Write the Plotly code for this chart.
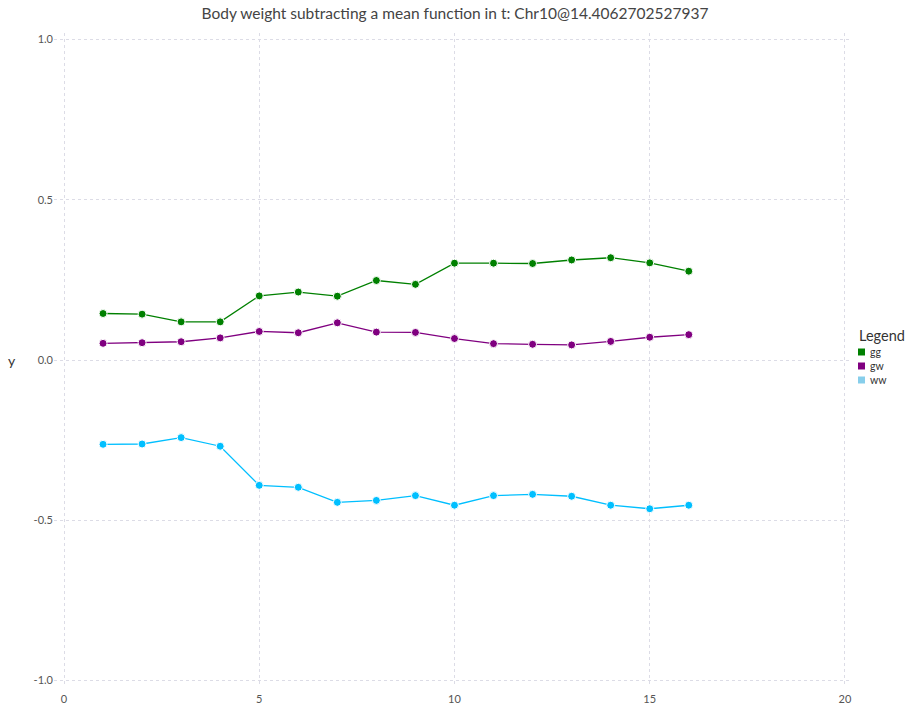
import plotly.graph_objects as go

# Time points and per-genotype body weight residuals
t = list(range(1, 17))
gg = [0.145, 0.143, 0.119, 0.119, 0.200, 0.212, 0.199, 0.248,
      0.236, 0.302, 0.302, 0.301, 0.312, 0.319, 0.303, 0.277]
gw = [0.052, 0.054, 0.057, 0.069, 0.089, 0.085, 0.116, 0.087,
      0.086, 0.067, 0.051, 0.049, 0.047, 0.058, 0.071, 0.079]
ww = [-0.263, -0.262, -0.242, -0.269, -0.391, -0.397, -0.444, -0.438,
      -0.423, -0.453, -0.423, -0.419, -0.425, -0.453, -0.464, -0.453]

names = ["gg", "gw", "ww"]
line_colors = ["#008000", "#800080", "#00BFFF"]
legend_colors = ["#008000", "#800080", "#87CEEB"]
values = [gg, gw, ww]

FONT = "Lato, 'Open Sans', sans-serif"
GRID = "#dcdce6"
W, H = 910, 709
ML, MR, MT, MB = 54, 58, 33, 22

fig = go.Figure()
for name, vals, col in zip(names, values, line_colors):
    fig.add_trace(go.Scatter(
        x=t, y=vals, mode="lines+markers", name=name, showlegend=False,
        line=dict(color=col, width=1.3),
        marker=dict(size=8, color=col, line=dict(color="white", width=1)),
    ))

# Compact legend placed by pixel position: title, square swatches, labels
plot_w = W - ML - MR
plot_h = H - MT - MB

def fx(p):
    return (p - ML) / plot_w

def fy(p):
    return (H - MB - p) / plot_h

shapes = []
annotations = [
    dict(text="Legend", xref="paper", yref="paper", x=fx(857), y=fy(335),
         xanchor="left", yanchor="middle", showarrow=False,
         font=dict(size=14.5, color="#333")),
    dict(text="y", xref="paper", yref="paper", x=-0.045, y=0.5,
         xanchor="right", yanchor="middle", showarrow=False,
         font=dict(size=14, color="#333")),
]
for i, (name, col) in enumerate(zip(names, legend_colors)):
    cy = 352 + 14 * i
    shapes.append(dict(
        type="rect", xref="paper", yref="paper", line=dict(width=0), fillcolor=col,
        x0=fx(858), x1=fx(865), y0=fy(cy + 3.5), y1=fy(cy - 3.5),
    ))
    annotations.append(dict(
        text=name, xref="paper", yref="paper", x=fx(868), y=fy(cy),
        xanchor="left", yanchor="middle", showarrow=False,
        font=dict(size=10.5, color="#333"),
    ))

fig.update_layout(
    width=W, height=H,
    margin=dict(l=ML, r=MR, t=MT, b=MB),
    paper_bgcolor="white", plot_bgcolor="white",
    font=dict(family=FONT, size=11, color="#444"),
    showlegend=False,
    title=dict(text="Body weight subtracting a mean function in t: Chr10@14.4062702527937",
               x=0.5, xanchor="center", y=0.981, yanchor="middle",
               font=dict(family=FONT, size=15.5, color="#444")),
    xaxis=dict(range=[-0.256, 20.18], tickvals=[0, 5, 10, 15, 20],
               showgrid=True, gridcolor=GRID, griddash="dot", gridwidth=1,
               zeroline=False, showline=False, ticks="", automargin=False,
               ticklabelstandoff=4,
               tickfont=dict(size=11, color="#555")),
    yaxis=dict(range=[-1.02, 1.02], tickvals=[-1, -0.5, 0, 0.5, 1],
               ticktext=["-1.0", "-0.5", "0.0", "0.5", "1.0"],
               showgrid=True, gridcolor=GRID, griddash="dot", gridwidth=1,
               zeroline=False, showline=False, ticks="", automargin=False,
               tickfont=dict(size=11, color="#555")),
    shapes=shapes,
    annotations=annotations,
)

fig.write_html("out.html")
